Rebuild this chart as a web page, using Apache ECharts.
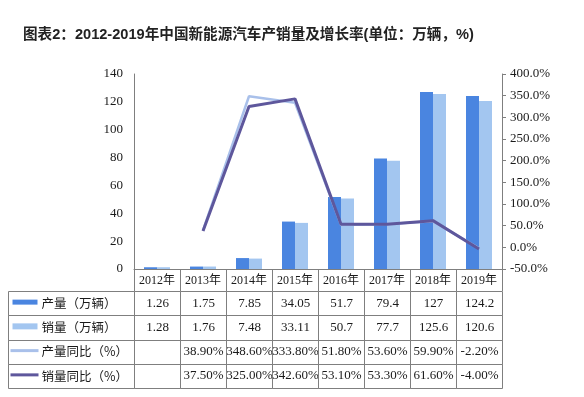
<!DOCTYPE html>
<html>
<head>
<meta charset="utf-8">
<script src="https://cdn.jsdelivr.net/npm/echarts@6/dist/echarts.min.js"></script>
<style>html,body{margin:0;padding:0;background:#fff;}#c{width:584px;height:397px;}</style>
</head>
<body>
<div id="c"></div>
<script>
const titleText = '图表2：2012-2019年中国新能源汽车产销量及增长率(单位：万辆，%)';
const years = ['2012年','2013年','2014年','2015年','2016年','2017年','2018年','2019年'];
const production = [1.26, 1.75, 7.85, 34.05, 51.7, 79.4, 127, 124.2];
const sales = [1.28, 1.76, 7.48, 33.11, 50.7, 77.7, 125.6, 120.6];
const prodGrowth = [null, 38.9, 348.6, 333.8, 51.8, 53.6, 59.9, -2.2];
const salesGrowth = [null, 37.5, 325.0, 342.6, 53.1, 53.3, 61.6, -4.0];
const rowNames = ['产量（万辆）','销量（万辆）','产量同比（%）','销量同比（%）'];
const prodText = ['1.26','1.75','7.85','34.05','51.7','79.4','127','124.2'];
const salesText = ['1.28','1.76','7.48','33.11','50.7','77.7','125.6','120.6'];
const prodGrowthText = ['','38.90%','348.60%','333.80%','51.80%','53.60%','59.90%','-2.20%'];
const salesGrowthText = ['','37.50%','325.00%','342.60%','53.10%','53.30%','61.60%','-4.00%'];

const C_BAR1 = '#4a85e0', C_BAR2 = '#a3c6f0', C_LINE1 = '#a9c0ea', C_LINE2 = '#5e579c';
const BORDER = '#7f7f7f', TXT = '#1a1a1a';
const rowsText = [prodText, salesText, prodGrowthText, salesGrowthText];

const plotLeft = 134, plotRight = 502, tableLeft = 8;
const colW = (plotRight - plotLeft) / years.length;
const xMin = -(plotLeft - tableLeft) / colW;

const cells = [];
const cellText = [];
for (let r = 0; r < rowNames.length; r++) {
  cells.push([-1, r]); cellText.push(rowNames[r]);
  for (let c = 0; c < years.length; c++) { cells.push([c, r]); cellText.push(rowsText[r][c]); }
}

function px(v){ return Math.round(v) + 0.5; }

function renderCell(params, api) {
  const col = api.value(0), row = api.value(1);
  const h = api.size([0, 1])[1];
  const yc = api.coord([0, row])[1];
  const y0 = px(yc - h / 2), y1 = px(yc + h / 2);
  const x0 = px(api.coord([col < 0 ? xMin : col, row])[0]);
  const x1 = px(api.coord([col < 0 ? 0 : col + 1, row])[0]);
  const txt = cellText[params.dataIndex];
  const children = [{
    type: 'rect', shape: {x: x0, y: y0, width: x1 - x0, height: y1 - y0},
    style: {fill: 'none', stroke: BORDER, lineWidth: 1}, silent: true
  }];
  if (col < 0) {
    const sx = x0 + 4, ex = x0 + 29;
    if (row === 0) children.push({type:'rect', shape:{x:sx, y:yc-3.5, width:ex-sx, height:5}, style:{fill:C_BAR1}});
    else if (row === 1) children.push({type:'rect', shape:{x:sx, y:yc-4, width:ex-sx, height:6}, style:{fill:C_BAR2}});
    else children.push({type:'line', shape:{x1:sx-2, y1:yc-1, x2:ex+1, y2:yc-1}, style:{stroke: row===2?C_LINE1:C_LINE2, lineWidth:3}});
    children.push({type:'text', x: x0 + 33, y: yc, style:{text: txt, fill: TXT, font: '12.5px "Noto Sans CJK SC"', align:'left', verticalAlign:'middle'}});
  } else {
    children.push({type:'text', x: (x0 + x1) / 2, y: yc, style:{text: txt, fill: TXT, font: '13px "Liberation Serif"', align:'center', verticalAlign:'middle'}});
  }
  return {type: 'group', children};
}

const chart = echarts.init(document.getElementById('c'));
chart.setOption({
  backgroundColor: '#fff',
  animation: false,
  title: {
    text: titleText, left: 18, top: 23,
    textStyle: {fontSize: 14.6, fontWeight: 'bold', color: '#222', fontFamily: 'Liberation Sans, "Noto Sans CJK SC"'}
  },
  grid: [
    {left: plotLeft, right: 584 - plotRight, top: 74, bottom: 397 - 269},
    {left: tableLeft, right: 584 - plotRight, top: 291, bottom: 397 - 388}
  ],
  xAxis: [
    {type: 'category', gridIndex: 0, data: years,
     axisLine: {lineStyle: {color: BORDER}},
     axisTick: {show: true, interval: 0, length: 22, lineStyle: {color: BORDER}},
     axisLabel: {interval: 0, color: TXT, fontSize: 12, fontFamily: '"Liberation Serif", "Noto Sans CJK SC"', margin: 6}},
    {type: 'value', gridIndex: 1, min: xMin, max: years.length, show: false}
  ],
  yAxis: [
    {type: 'value', gridIndex: 0, min: 0, max: 140, interval: 20,
     axisLine: {show: true, lineStyle: {color: BORDER}}, axisTick: {show: false},
     splitLine: {show: false},
     axisLabel: {color: TXT, fontSize: 13, fontFamily: 'Liberation Serif', margin: 11}},
    {type: 'value', gridIndex: 0, min: -50, max: 400, interval: 50, position: 'right',
     axisLine: {show: true, lineStyle: {color: BORDER}},
     axisTick: {show: true, length: 4, lineStyle: {color: BORDER}},
     splitLine: {show: false},
     axisLabel: {color: TXT, fontSize: 13, fontFamily: 'Liberation Serif', margin: 8,
                 formatter: v => v.toFixed(1) + '%'}},
    {type: 'category', gridIndex: 1, data: rowNames, inverse: true, show: false}
  ],
  series: [
    {name: rowNames[0], type: 'bar', xAxisIndex: 0, yAxisIndex: 0, data: production, barWidth: 13, barGap: '0%', itemStyle: {color: C_BAR1}},
    {name: rowNames[1], type: 'bar', xAxisIndex: 0, yAxisIndex: 0, data: sales, barWidth: 13, barGap: '0%', itemStyle: {color: C_BAR2}},
    {name: rowNames[2], type: 'line', xAxisIndex: 0, yAxisIndex: 1, data: prodGrowth, showSymbol: false, symbol: 'none', lineStyle: {color: C_LINE1, width: 2.5}},
    {name: rowNames[3], type: 'line', xAxisIndex: 0, yAxisIndex: 1, data: salesGrowth, showSymbol: false, symbol: 'none', lineStyle: {color: C_LINE2, width: 3}},
    {name: 'table', type: 'custom', xAxisIndex: 1, yAxisIndex: 2, data: cells, renderItem: renderCell, silent: true}
  ]
});
</script>
</body>
</html>
